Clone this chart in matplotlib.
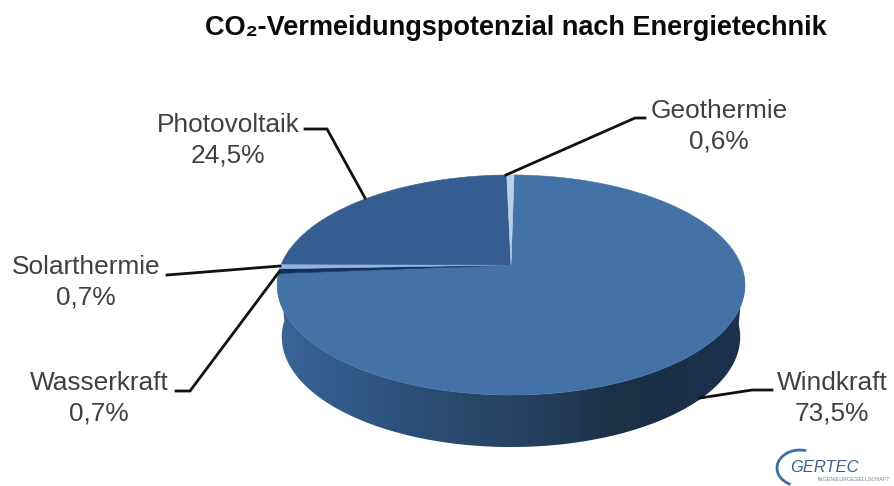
"""CO2-Vermeidungspotenzial: pseudo-3D pie, drawn in pixel coordinates."""
import matplotlib

matplotlib.use("Agg")
import matplotlib.pyplot as plt
from matplotlib.colors import LinearSegmentedColormap
from matplotlib.patches import Arc, Polygon
import numpy as np

plt.rcParams["font.family"] = ["Liberation Sans", "DejaVu Sans"]

TITLE = "CO₂-Vermeidungspotenzial nach Energietechnik"
CATEGORIES = ["Windkraft", "Wasserkraft", "Solarthermie", "Photovoltaik", "Geothermie"]
SHARES = [73.5, 0.7, 0.7, 24.5, 0.6]
COLORS = ["#4471a6", "#14315a", "#8fb6e3", "#355d90", "#b9d0ea"]

# perspective of the pie top, in pixels
CX, CY = 511, 265
RX, RY, PERSP = 230, 106.4, -0.1818
ROTATION = 0.9
DEPTH = 52

# label anchor and leader polyline, pixel coordinates
LABELS = {
    "Windkraft": ((832, 398), [(700, 398), (752, 390), (772, 390)]),
    "Wasserkraft": ((99, 398), [(176, 391), (190, 391), (279, 272)]),
    "Solarthermie": ((86, 282), [(167, 275), (280, 266)]),
    "Photovoltaik": ((228, 140), [(305, 129), (327, 129), (365, 198)]),
    "Geothermie": ((719, 126), [(645, 118), (635, 118), (506, 175)]),
}


def rim(theta_deg):
    """Clockwise angle from 12 o'clock -> point on the rim of the top face."""
    th = np.radians(theta_deg)
    u, v = np.sin(th), -np.cos(th)
    w = 1 + PERSP * v
    return CX + RX * u / w, CY + RY * v / w


fig = plt.figure(figsize=(8.94, 4.86), dpi=100)
ax = fig.add_axes([0, 0, 1, 1])
ax.set_xlim(0, 894)
ax.set_ylim(486, 0)
ax.axis("off")

# side wall, gradient clipped to the front half of the rim
th_front = np.linspace(94, 268, 200)
xt, yt = rim(th_front)
xb = CX + 0.98 * (xt - CX)
yb = yt + DEPTH
wall = Polygon(np.r_[np.c_[xt, yt], np.c_[xb, yb][::-1]], closed=True,
               facecolor="none", edgecolor="none")
ax.add_patch(wall)
cmap = LinearSegmentedColormap.from_list(
    "side", ["#3a6595", "#325a88", "#2c4f78", "#284768", "#243f5e", "#1b3148", "#1a2f47", "#1b3250"])
img = ax.imshow(np.linspace(0, 1, 256)[None, :], extent=(278, 745, 486, 0),
                cmap=cmap, aspect="auto", zorder=1)
img.set_clip_path(wall)
ax.set_xlim(0, 894)
ax.set_ylim(486, 0)

# top face slices
bounds = np.r_[0, np.cumsum(SHARES)] / np.sum(SHARES) * 360 + ROTATION
for start, end, color in zip(bounds[:-1], bounds[1:], COLORS):
    x, y = rim(np.linspace(start, end, 200))
    pts = np.r_[[[CX, CY]], np.c_[x, y]]
    ax.add_patch(Polygon(pts, closed=True, facecolor=color, edgecolor=color,
                         linewidth=0.4, zorder=2))

# leaders and labels
for name, share in zip(CATEGORIES, SHARES):
    (lx, ly), leader = LABELS[name]
    ax.plot(*zip(*leader), color="#111111", lw=2.0, zorder=3, solid_joinstyle="miter")
    value = f"{share:.1f}%".replace(".", ",")
    ax.text(lx, ly, f"{name}\n{value}", ha="center", va="center", fontsize=18.9,
            color="#404040", linespacing=1.34, zorder=4)

ax.text(516, 28, TITLE, ha="center", va="center", fontsize=19.5,
        fontweight="bold", color="#0a0a0a")

# logo
ax.add_patch(Arc((800, 468), 46, 36, theta1=120, theta2=290, color="#3b6ea8", lw=2.0))
ax.text(790, 467, "GERTEC", fontsize=11.9, style="italic", color="#3f5f8f",
        ha="left", va="center")
ax.text(817, 479.5, "INGENIEURGESELLSCHAFT", fontsize=3.9, color="#6f85a5",
        ha="left", va="center")

fig.savefig("out.png", dpi=100)
plt.close(fig)
